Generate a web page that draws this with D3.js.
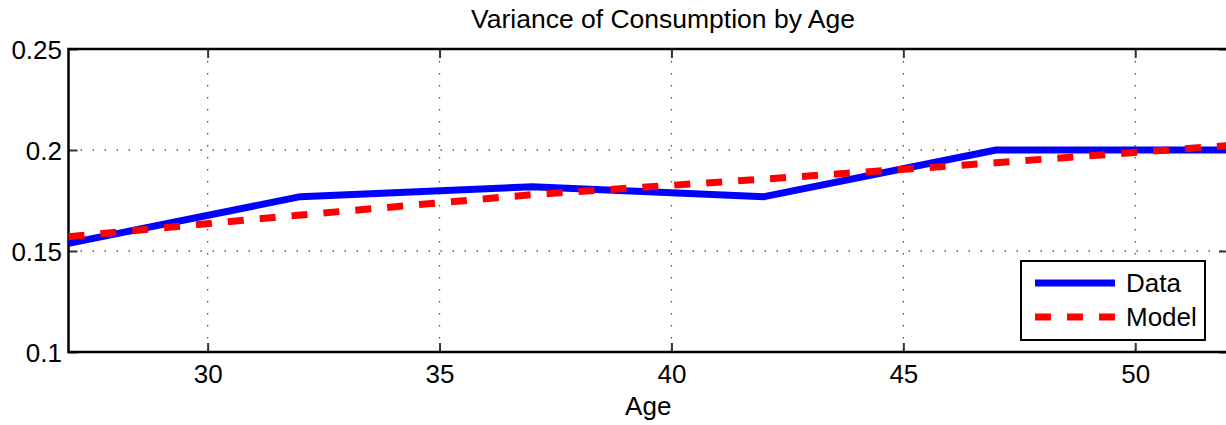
<!DOCTYPE html>
<html>
<head>
<meta charset="utf-8">
<script src="https://cdn.jsdelivr.net/npm/d3@7"></script>
<style>
  html, body { margin: 0; padding: 0; background: #fff; overflow: hidden; }
  svg { display: block; font-family: "Liberation Sans", Arial, sans-serif; }
</style>
</head>
<body>
<svg id="chart" width="1226" height="425"></svg>
<script>
// Ages at which consumption variance is reported
const ages = [27, 32, 37, 42, 47, 52];
// Observed variance of consumption
const dataValues = [0.1538, 0.1769, 0.1818, 0.1769, 0.2, 0.2];
// Model-implied variance of consumption
const modelValues = [0.1571, 0.1678, 0.1779, 0.1856, 0.1937, 0.2022];
// Axis ticks
const xTicks = [30, 35, 40, 45, 50];
const yTicks = [0.1, 0.15, 0.2, 0.25];
const yTickLabels = ["0.1", "0.15", "0.2", "0.25"];
const seriesNames = ["Data", "Model"];

const svg = d3.select("#chart");
const plotLeft = 68.5, plotRight = 1228, plotTop = 49, plotBottom = 352;

const x = d3.scaleLinear().domain([27, 52]).range([plotLeft, plotRight]);
const y = d3.scaleLinear().domain([0.1, 0.25]).range([plotBottom, plotTop]);

// Dotted grid
const grid = svg.append("g")
  .attr("stroke", "#555").attr("stroke-width", 1.3)
  .attr("stroke-dasharray", "1.5,10.5");
grid.selectAll("line.v").data(xTicks).join("line")
  .attr("class", "v")
  .attr("x1", d => x(d)).attr("x2", d => x(d))
  .attr("y1", plotTop).attr("y2", plotBottom);
grid.selectAll("line.h").data(yTicks.filter(d => d > 0.1 && d < 0.25)).join("line")
  .attr("class", "h")
  .attr("x1", plotLeft).attr("x2", plotRight)
  .attr("y1", d => y(d)).attr("y2", d => y(d));

// Axes: ticks pointing inward on all four sides
const tickLen = 9;
const fs = 26;
const xBottom = svg.append("g").attr("transform", `translate(0,${plotBottom})`)
  .call(d3.axisBottom(x).tickValues(xTicks).tickSizeInner(-tickLen).tickSizeOuter(0).tickPadding(13));
const xTop = svg.append("g").attr("transform", `translate(0,${plotTop})`)
  .call(d3.axisTop(x).tickValues(xTicks).tickSizeInner(-tickLen).tickSizeOuter(0).tickFormat(""));
const yLeft = svg.append("g").attr("transform", `translate(${plotLeft},0)`)
  .call(d3.axisLeft(y).tickValues(yTicks).tickSizeInner(-tickLen).tickSizeOuter(0)
    .tickFormat((d, i) => yTickLabels[i]).tickPadding(6.5));
const yRight = svg.append("g").attr("transform", `translate(${plotRight},0)`)
  .call(d3.axisRight(y).tickValues(yTicks).tickSizeInner(-tickLen).tickSizeOuter(0).tickFormat(""));

[xBottom, xTop, yLeft, yRight].forEach(g => {
  g.select(".domain").remove();
  g.selectAll(".tick line").attr("stroke", "#333").attr("stroke-width", 2);
  g.selectAll(".tick text").attr("font-size", fs).attr("fill", "#000")
    .attr("font-family", "Liberation Sans, Arial, sans-serif");
});
xBottom.selectAll(".tick text").attr("dy", "0.71em");
yLeft.selectAll(".tick text").attr("dy", "0.36em");

// Box
svg.append("rect")
  .attr("x", plotLeft).attr("y", plotTop)
  .attr("width", plotRight - plotLeft).attr("height", plotBottom - plotTop)
  .attr("fill", "none").attr("stroke", "#000").attr("stroke-width", 2.5);

// Series
const line = d3.line().x(d => x(d[0])).y(d => y(d[1]));
const dataPts = ages.map((a, i) => [a, dataValues[i]]);
const modelPts = ages.map((a, i) => [a, modelValues[i]]);

svg.append("path").datum(dataPts)
  .attr("d", line).attr("fill", "none")
  .attr("stroke", "#0000ff").attr("stroke-width", 7)
  .attr("stroke-linejoin", "round");
svg.append("path").datum(modelPts)
  .attr("d", line).attr("fill", "none")
  .attr("stroke", "#ff0000").attr("stroke-width", 7)
  .attr("stroke-dasharray", "16,16");

// Title and axis label
svg.append("text")
  .attr("x", 663).attr("y", 28)
  .attr("text-anchor", "middle").attr("font-size", 26.5)
  .text("Variance of Consumption by Age");
svg.append("text")
  .attr("x", (plotLeft + plotRight) / 2).attr("y", 415)
  .attr("text-anchor", "middle").attr("font-size", fs)
  .text("Age");

// Legend
const lg = svg.append("g");
lg.append("rect")
  .attr("x", 1021).attr("y", 261).attr("width", 184).attr("height", 79)
  .attr("fill", "#fff").attr("stroke", "#000").attr("stroke-width", 2);
const styles = [
  { color: "#0000ff", dash: null },
  { color: "#ff0000", dash: "16,16" }
];
seriesNames.forEach((name, i) => {
  const yy = 283 + i * 34;
  lg.append("line")
    .attr("x1", 1035).attr("x2", 1115).attr("y1", yy).attr("y2", yy)
    .attr("stroke", styles[i].color).attr("stroke-width", 7)
    .attr("stroke-dasharray", styles[i].dash);
  lg.append("text")
    .attr("x", 1126).attr("y", yy).attr("dy", "0.36em")
    .attr("font-size", fs).text(name);
});
</script>
</body>
</html>
